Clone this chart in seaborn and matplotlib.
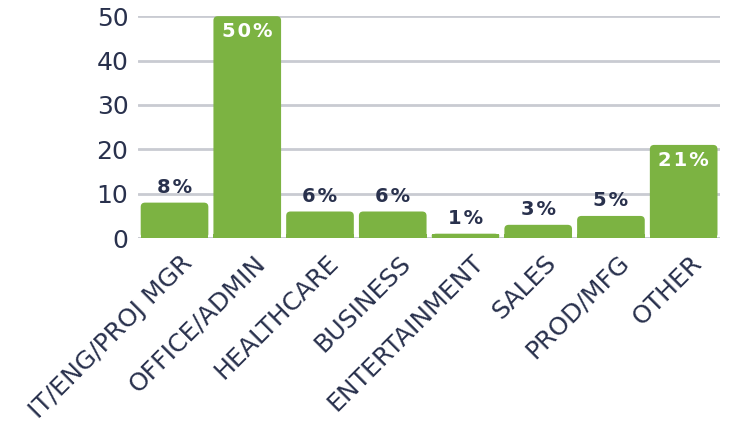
import pandas as pd
import numpy as np
import matplotlib.pyplot as plt
import matplotlib.transforms as mtransforms
import seaborn as sns
from matplotlib.patches import FancyBboxPatch

categories = ['IT/ENG/PROJ MGR', 'OFFICE/ADMIN', 'HEALTHCARE', 'BUSINESS',
              'ENTERTAINMENT', 'SALES', 'PROD/MFG', 'OTHER']
values = [8, 50, 6, 6, 1, 3, 5, 21]
labels = ['8\u200a%', '5\u200a0\u200a%', '6\u200a%', '6\u200a%', '1\u200a%',
          '3\u200a%', '5\u200a%', '2\u200a1\u200a%']

df = pd.DataFrame({'category': categories, 'pct': values})

sns.set_style('white')
plt.rcParams['font.family'] = ['DejaVu Sans']

navy = '#29314d'
green = '#7cb342'

fig, ax = plt.subplots(figsize=(7.31, 4.26), dpi=100)
fig.subplots_adjust(left=0.189, right=0.985, top=0.962, bottom=0.441)

sns.barplot(data=df, x='category', y='pct', color=green, saturation=1,
            width=0.93, ax=ax, zorder=3)

# round the top corners of the bars
for p in list(ax.patches):
    x, y, w, h = p.get_x(), p.get_y(), p.get_width(), p.get_height()
    fb = FancyBboxPatch((x, y), w, h, boxstyle='round,pad=0,rounding_size=0.06',
                        mutation_aspect=16, fc=green, ec='none', zorder=3)
    ax.add_patch(fb)
    ax.add_patch(plt.Rectangle((x, y), w, min(h, 1.0), fc=green, ec='none', zorder=3))
    p.remove()

ax.set_ylim(0, 50)
ax.set_xlim(-0.5, len(categories) - 0.5)
ax.set_yticks([0, 10, 20, 30, 40, 50])
ax.yaxis.grid(True, color='#c9cbd2', linewidth=2, zorder=0)
ax.set_axisbelow(True)
sns.despine(ax=ax, left=True, bottom=True, top=True, right=True)
ax.axhline(0, color='#c9cbd2', linewidth=2, zorder=2)

ax.set_xlabel('')
ax.set_ylabel('')
ax.tick_params(axis='y', labelsize=18, colors=navy, length=0, pad=7)
ax.tick_params(axis='x', labelsize=18, colors=navy, length=0, pad=9)
offset = mtransforms.ScaledTranslation(6 / 100, 0, fig.dpi_scale_trans)
for t in ax.get_xticklabels():
    t.set_rotation(45)
    t.set_ha('right')
    t.set_rotation_mode('anchor')
    t.set_transform(t.get_transform() + offset)

for i, (v, lab) in enumerate(zip(values, labels)):
    if v > 15:
        ax.text(i, v - 1.3, lab, ha='center', va='top', color='white',
                fontsize=14, fontweight='bold')
    else:
        ax.text(i, v + 1.3, lab, ha='center', va='bottom', color=navy,
                fontsize=14, fontweight='bold')

plt.savefig('out.png', dpi=100)
